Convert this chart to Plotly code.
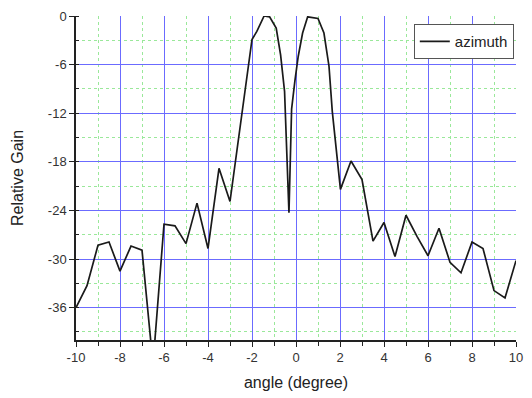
import plotly.graph_objects as go

angle = [-10, -9.5, -9, -8.5, -8, -7.5, -7, -6.5, -6, -5.5, -5, -4.5, -4, -3.5, -3,
         -2, -1.78, -1.45, -1.2, -0.9, -0.7, -0.52, -0.32, -0.2, -0.05, 0.1, 0.3, 0.53,
         1.0, 1.27, 1.5, 1.65, 2.02, 2.5, 3, 3.5, 4, 4.5, 5, 5.5, 6, 6.5, 7, 7.5,
         8, 8.5, 9, 9.5, 10]
gain = [-36, -33.3, -28.3, -27.9, -31.5, -28.4, -28.9, -43, -25.7, -25.9, -28.1, -23.1, -28.7, -18.8, -22.9,
        -2.9, -1.9, 0, -0.1, -1.5, -4.8, -9.3, -24.3, -11.5, -8.0, -5.0, -2.1, -0.1,
        -0.3, -2.1, -6.2, -11.8, -21.4, -17.9, -20.2, -27.8, -25.5, -29.7, -24.6, -27.2, -29.6, -26.2, -30.4, -31.7,
        -27.9, -28.7, -33.9, -34.8, -30.2]

x_ticks = [-10, -8, -6, -4, -2, 0, 2, 4, 6, 8, 10]
y_ticks = [0, -6, -12, -18, -24, -30, -36]

fig = go.Figure()
fig.add_trace(go.Scatter(x=angle, y=gain, mode="lines", name="azimuth",
                         line=dict(color="#1a1a1a", width=1.7)))

font = "Liberation Sans, Arial, sans-serif"
fig.update_layout(
    width=532, height=398,
    margin=dict(l=76, r=9, t=12, b=55),
    paper_bgcolor="white", plot_bgcolor="white",
    font=dict(family=font, size=13, color="#333"),
    showlegend=True,
    legend=dict(x=0.995, y=0.975, xanchor="right", yanchor="top",
                bordercolor="#555", borderwidth=1, bgcolor="white",
                font=dict(size=15, color="#222"), tracegroupgap=0),
    xaxis=dict(range=[-10, 10], tickvals=x_ticks, ticktext=[str(v) for v in x_ticks],
               showline=True, linecolor="#222", linewidth=1.5,
               ticks="outside", ticklen=5, tickcolor="#222",
               ticklabeloverflow="allow",
               showgrid=True, gridcolor="#6b6bff", gridwidth=1,
               zeroline=False,
               minor=dict(dtick=1, tick0=0, showgrid=True, gridcolor="#9ae89a",
                          griddash="dot", gridwidth=1, ticks="outside", ticklen=4, tickcolor="#222"),
               title=dict(text="angle (degree)", font=dict(size=16, color="#222"), standoff=12)),
    yaxis=dict(range=[-40, 0], tickvals=y_ticks, ticktext=[str(v) for v in y_ticks],
               showline=True, linecolor="#222", linewidth=1.5,
               ticks="outside", ticklen=5, tickcolor="#222",
               showgrid=True, gridcolor="#6b6bff", gridwidth=1,
               zeroline=False,
               minor=dict(dtick=3, tick0=0, showgrid=True, gridcolor="#9ae89a",
                          griddash="dot", gridwidth=1, ticks="inside", ticklen=3, tickcolor="#222"),
               title=dict(text="Relative Gain", font=dict(size=16, color="#222"), standoff=20)),
)
fig.write_html("out.html", config={"displayModeBar": False},
               post_script="document.body.style.margin='0';")
